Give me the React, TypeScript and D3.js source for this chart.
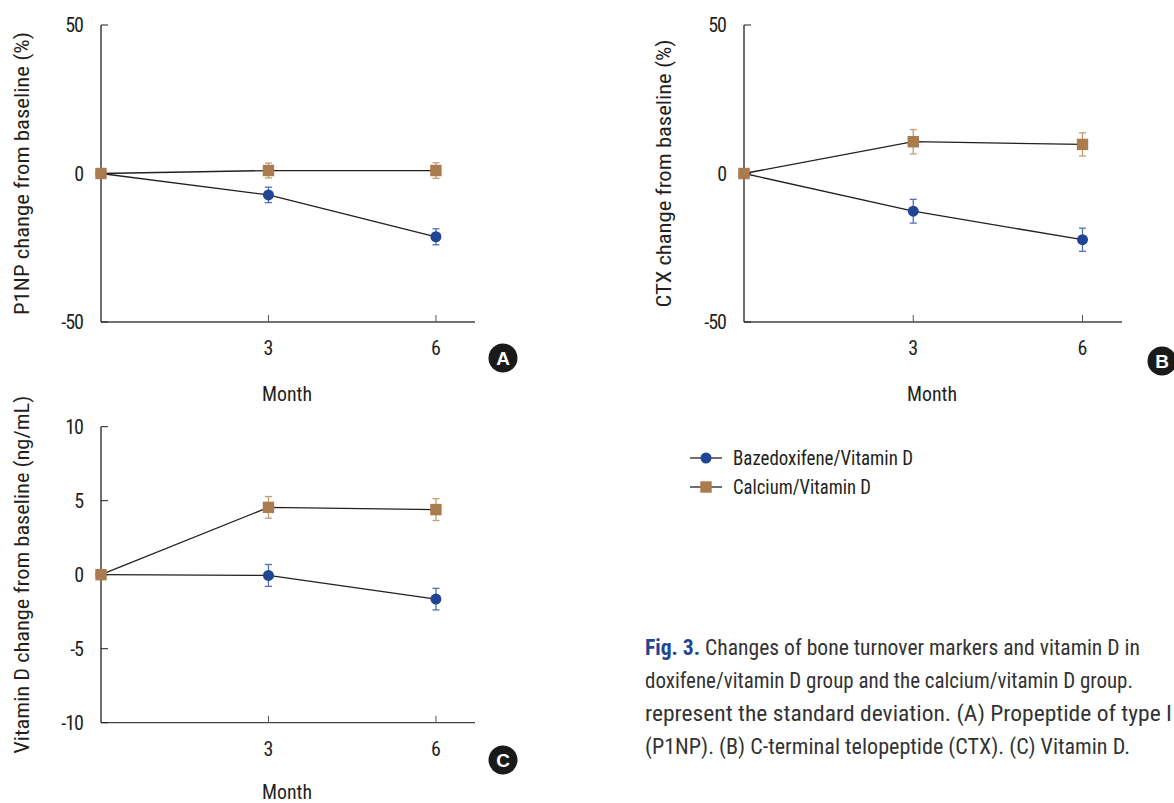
import React from "react";
import * as d3 from "d3";

// ---- data ----
const months = [0, 3, 6];
const xTicks = [3, 6];

const p1npBaz = [0, -7.2, -21.3];
const p1npBazSd = [0, 2.6, 2.7];
const p1npCal = [0, 1.0, 1.0];
const p1npCalSd = [0, 2.5, 2.6];

const ctxBaz = [0, -12.7, -22.3];
const ctxBazSd = [0, 4.0, 3.9];
const ctxCal = [0, 10.7, 9.8];
const ctxCalSd = [0, 4.1, 3.9];

const vitdBaz = [0, -0.05, -1.65];
const vitdBazSd = [0, 0.74, 0.73];
const vitdCal = [0, 4.55, 4.4];
const vitdCalSd = [0, 0.73, 0.74];

const pctTicks = [-50, 0, 50];
const vitdTicks = [-10, -5, 0, 5, 10];

const seriesNames = ["Bazedoxifene/Vitamin D", "Calcium/Vitamin D"];

const captionLines = [
  "Changes of bone turnover markers and vitamin D in",
  "doxifene/vitamin D group and the calcium/vitamin D group.",
  "represent the standard deviation. (A) Propeptide of type I",
  "(P1NP). (B) C-terminal telopeptide (CTX). (C) Vitamin D.",
];

const FONT = "'Liberation Sans Narrow','Roboto Condensed','DejaVu Sans Condensed',Roboto,sans-serif";
const BLUE = "#1f4594";
const BLUE_ERR = "#4f70bd";
const BROWN = "#a97b4f";
const BROWN_ERR = "#c49c72";
const INK = "#231f20";

type PanelProps = {
  x0: number;
  x1: number;
  yTop: number;
  yBottom: number;
  yDomain: [number, number];
  yTicks: number[];
  baz: number[];
  bazSd: number[];
  cal: number[];
  calSd: number[];
  yLabel: string;
  yLabelX: number;
  yLabelLen: number;
  monthX: number;
  monthDy: number;
  letter: string;
  letterX: number;
  letterY: number;
};

const Panel = (p: PanelProps) => {
  const x = d3.scaleLinear().domain([0, 6.7]).range([p.x0, p.x1]);
  const y = d3.scaleLinear().domain(p.yDomain).range([p.yBottom, p.yTop]);
  const line = d3
    .line<number>()
    .x((_, i) => x(months[i]))
    .y((d) => y(d));

  const errBars = (vals: number[], sds: number[], color: string) =>
    vals.map((v, i) =>
      sds[i] > 0 ? (
        <g key={i} stroke={color} strokeWidth={1.3}>
          <line x1={x(months[i])} x2={x(months[i])} y1={y(v - sds[i])} y2={y(v + sds[i])} />
          <line x1={x(months[i]) - 3.5} x2={x(months[i]) + 3.5} y1={y(v - sds[i])} y2={y(v - sds[i])} />
          <line x1={x(months[i]) - 3.5} x2={x(months[i]) + 3.5} y1={y(v + sds[i])} y2={y(v + sds[i])} />
        </g>
      ) : null
    );

  const yMid = (p.yTop + p.yBottom) / 2;

  return (
    <g>
      {/* axes */}
      <line x1={p.x0} x2={p.x0} y1={p.yTop} y2={p.yBottom} stroke={INK} strokeWidth={1.3} />
      <line x1={p.x0} x2={p.x1} y1={p.yBottom} y2={p.yBottom} stroke="#444" strokeWidth={1.3} />
      {p.yTicks.map((t) => (
        <g key={t}>
          <line x1={p.x0} x2={p.x0 + 7} y1={y(t)} y2={y(t)} stroke={INK} strokeWidth={1} />
          <text
            x={p.x0 - 18}
            y={y(t) + 7}
            textAnchor="end"
            fontSize={20}
            letterSpacing={-1}
            fill={INK}
            fontFamily={FONT}
          >
            {t}
          </text>
        </g>
      ))}
      {xTicks.map((t) => (
        <g key={t}>
          <line x1={x(t)} x2={x(t)} y1={p.yBottom} y2={p.yBottom - 7} stroke="#555" strokeWidth={1} />
          <text x={x(t)} y={p.yBottom + 33} textAnchor="middle" fontSize={20} fill={INK} fontFamily={FONT}>
            {t}
          </text>
        </g>
      ))}
      <text
        x={p.monthX}
        y={p.yBottom + p.monthDy}
        textAnchor="middle"
        fontSize={20}
        fill={INK}
        fontFamily={FONT}
        textLength={50}
        lengthAdjust="spacingAndGlyphs"
      >
        Month
      </text>
      <text
        transform={`translate(${p.yLabelX},${yMid}) rotate(-90)`}
        textAnchor="middle"
        fontSize={20}
        fill={INK}
        fontFamily={FONT}
        textLength={p.yLabelLen}
        lengthAdjust="spacingAndGlyphs"
      >
        {p.yLabel}
      </text>

      {/* series */}
      <path d={line(p.baz) || ""} fill="none" stroke={INK} strokeWidth={1.3} />
      <path d={line(p.cal) || ""} fill="none" stroke={INK} strokeWidth={1.3} />
      {errBars(p.baz, p.bazSd, BLUE_ERR)}
      {p.baz.map((v, i) => (
        <circle key={i} cx={x(months[i])} cy={y(v)} r={5.5} fill={BLUE} />
      ))}
      {errBars(p.cal, p.calSd, BROWN_ERR)}
      {p.cal.map((v, i) => (
        <rect key={i} x={x(months[i]) - 5.7} y={y(v) - 5.7} width={11.4} height={11.4} fill={BROWN} />
      ))}

      {/* panel letter */}
      <circle cx={p.letterX} cy={p.letterY} r={14.5} fill="#1a1a1a" />
      <text
        x={p.letterX}
        y={p.letterY + 6.5}
        textAnchor="middle"
        fontSize={19}
        fontWeight="bold"
        fill="#fff"
        fontFamily="'Liberation Sans',Arial,sans-serif"
      >
        {p.letter}
      </text>
    </g>
  );
};

const App = () => {
  return (
    <div style={{ position: "absolute", left: 0, top: 0 }}>
      <svg width={1174} height={803} style={{ display: "block", background: "#fff" }}>
        <Panel
          x0={101} x1={475} yTop={25} yBottom={322} yDomain={[-50, 50]} yTicks={pctTicks}
          baz={p1npBaz} bazSd={p1npBazSd} cal={p1npCal} calSd={p1npCalSd}
          yLabel="P1NP change from baseline (%)" yLabelX={29} yLabelLen={283}
          monthX={287} monthDy={79}
          letter="A" letterX={503} letterY={358}
        />
        <Panel
          x0={744} x1={1122} yTop={25} yBottom={322} yDomain={[-50, 50]} yTicks={pctTicks}
          baz={ctxBaz} bazSd={ctxBazSd} cal={ctxCal} calSd={ctxCalSd}
          yLabel="CTX change from baseline (%)" yLabelX={671} yLabelLen={268}
          monthX={932} monthDy={79}
          letter="B" letterX={1162} letterY={361}
        />
        <Panel
          x0={101} x1={475} yTop={426.7} yBottom={722.7} yDomain={[-10, 10]} yTicks={vitdTicks}
          baz={vitdBaz} bazSd={vitdBazSd} cal={vitdCal} calSd={vitdCalSd}
          yLabel="Vitamin D change from baseline (ng/mL)" yLabelX={29} yLabelLen={358}
          monthX={287} monthDy={76}
          letter="C" letterX={503} letterY={760}
        />

        {/* legend */}
        {seriesNames.map((name, i) => {
          const ly = 458 + i * 29;
          return (
            <g key={name}>
              <line x1={690} x2={722} y1={ly} y2={ly} stroke={INK} strokeWidth={1.3} />
              {i === 0 ? (
                <circle cx={706} cy={ly} r={5.5} fill={BLUE} />
              ) : (
                <rect x={700.3} y={ly - 5.7} width={11.4} height={11.4} fill={BROWN} />
              )}
              <text
                x={733}
                y={ly + 7}
                fontSize={20}
                fill={INK}
                fontFamily={FONT}
                textLength={i === 0 ? 180 : 138}
                lengthAdjust="spacingAndGlyphs"
              >
                {name}
              </text>
            </g>
          );
        })}

        {/* caption */}
        <text x={645} y={655} fontSize={22} fill="#333" fontFamily={FONT} textLength={495} lengthAdjust="spacingAndGlyphs">
          <tspan fill="#1f4594" fontWeight="bold">Fig. 3.</tspan> {captionLines[0]}
        </text>
        <text x={645} y={688} fontSize={22} fill="#333" fontFamily={FONT} textLength={488} lengthAdjust="spacingAndGlyphs">
          {captionLines[1]}
        </text>
        <text x={645} y={721} fontSize={22} fill="#333" fontFamily={FONT} textLength={527} lengthAdjust="spacingAndGlyphs">
          {captionLines[2]}
        </text>
        <text x={645} y={754} fontSize={22} fill="#333" fontFamily={FONT} textLength={485} lengthAdjust="spacingAndGlyphs">
          {captionLines[3]}
        </text>
      </svg>
    </div>
  );
};

export default App;
